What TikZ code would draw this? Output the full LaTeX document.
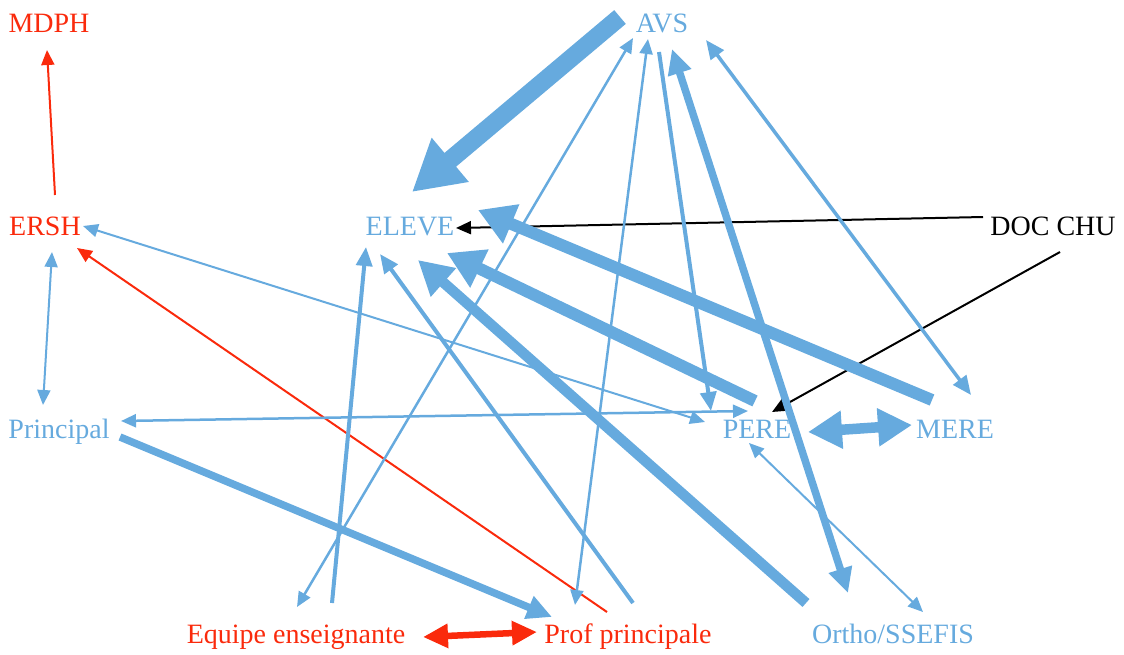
\documentclass[tikz,border=0pt]{standalone}
\usepackage{fontspec}
\setmainfont{Liberation Serif}
\usetikzlibrary{arrows.meta,calc}
\definecolor{bleu}{RGB}{102,170,222}
\definecolor{rouge}{RGB}{250,42,12}

\begin{document}
\begin{tikzpicture}[x=1pt,y=-1pt,
    lab/.style={anchor=base,inner sep=0pt,font=\fontsize{28}{32}\selectfont},
    p1/.style={line width=2pt,>={Triangle[length=15pt,width=13pt]}},
    p2/.style={line width=4pt,>={Triangle[length=19pt,width=16pt]}},
    p3/.style={line width=7.5pt,>={Triangle[length=25pt,width=23pt]}},
    p4/.style={line width=10.5pt,>={Triangle[length=34pt,width=36pt]}},
    p5/.style={line width=12pt,>={Triangle[length=36pt,width=40pt]}},
    p6/.style={line width=18pt,>={Triangle[length=50pt,width=54pt]}}]
    \useasboundingbox (0,0) rectangle (1124,654);

    % acteurs
    \node[lab,rouge] (mdph) at (49,32) {MDPH};
    \node[lab,rouge] (ersh) at (45,235) {ERSH};
    \node[lab,bleu] (principal) at (59,438) {Principal};
    \node[lab,bleu] (eleve) at (410,235) {ELEVE};
    \node[lab,bleu] (avs) at (662,32) {AVS};
    \node[lab] (docchu) at (1053,235) {DOC CHU};
    \node[lab,bleu] (pere) at (757,438) {PERE};
    \node[lab,bleu] (mere) at (955,438) {MERE};
    \node[lab,rouge] (equipe) at (296,643) {Equipe enseignante};
    \node[lab,rouge] (prof) at (628,643) {Prof principale};
    \node[lab,bleu] (ortho) at (893,643) {Ortho/SSEFIS};

    % liens rouges
    \draw[rouge,p1,->] ($(ersh.base)+(10,-40)$) -- ($(mdph.base)+(-2,18)$);
    \draw[rouge,p1,->] ($(prof.base)+(-21,-31)$) -- ($(ersh.base)+(32,13)$);
    \draw[rouge,p3,line width=6.5pt,<->] ($(equipe.base)+(127,-6)$) -- ($(prof.base)+(-91,-11)$);

    % liens noirs
    \draw[p1,->] ($(docchu.base)+(-70,-18)$) -- ($(eleve.base)+(46,-7)$);
    \draw[p1,->] ($(docchu.base)+(7,17)$) -- ($(pere.base)+(15,-26)$);

    % liens bleus
    \draw[bleu,p1,<->] ($(ersh.base)+(7,17)$) -- ($(principal.base)+(-16,-33)$);
    \draw[bleu,p1,<->] ($(ersh.base)+(38,-9)$) -- ($(pere.base)+(-52,-16)$);
    \draw[bleu,p1,line width=2.5pt,<->] ($(principal.base)+(62,-17)$) -- ($(pere.base)+(-9,-27)$);
    \draw[bleu,p3,->] ($(principal.base)+(61,-1)$) -- ($(prof.base)+(-76,-26)$);
    \draw[bleu,p1,line width=2.5pt,<->] ($(equipe.base)+(1,-36)$) -- ($(avs.base)+(-29,6)$);
    \draw[bleu,p2,->] ($(equipe.base)+(36,-40)$) -- ($(eleve.base)+(-44,12)$);
    \draw[bleu,p2,->] ($(prof.base)+(5,-40)$) -- ($(eleve.base)+(-30,19)$);
    \draw[bleu,p1,line width=2.5pt,<->] ($(prof.base)+(-53,-38)$) -- ($(avs.base)+(-14,7)$);
    \draw[bleu,p4,->] ($(ortho.base)+(-87,-40)$) -- ($(eleve.base)+(8,25)$);
    \draw[bleu,p5,->] ($(pere.base)+(-2,-37)$) -- ($(eleve.base)+(37,18)$);
    \draw[bleu,p5,->] ($(mere.base)+(-23,-38)$) -- ($(eleve.base)+(68,-25)$);
    \draw[bleu,p6,->] ($(avs.base)+(-42,-15)$) -- ($(eleve.base)+(2,-43)$);
    \draw[bleu,p2,->] ($(avs.base)+(-3,20)$) -- ($(pere.base)+(-46,-27)$);
    \draw[bleu,p3,<->] ($(avs.base)+(10,17)$) -- ($(ortho.base)+(-45,-50)$);
    \draw[bleu,p2,line width=3.5pt,<->] ($(avs.base)+(44,8)$) -- ($(mere.base)+(16,-43)$);
    \draw[bleu,p4,<->] ($(pere.base)+(51,-6)$) -- ($(mere.base)+(-43,-13)$);
    \draw[bleu,p1,<->] ($(pere.base)+(-8,5)$) -- ($(ortho.base)+(30,-31)$);
\end{tikzpicture}
\end{document}
